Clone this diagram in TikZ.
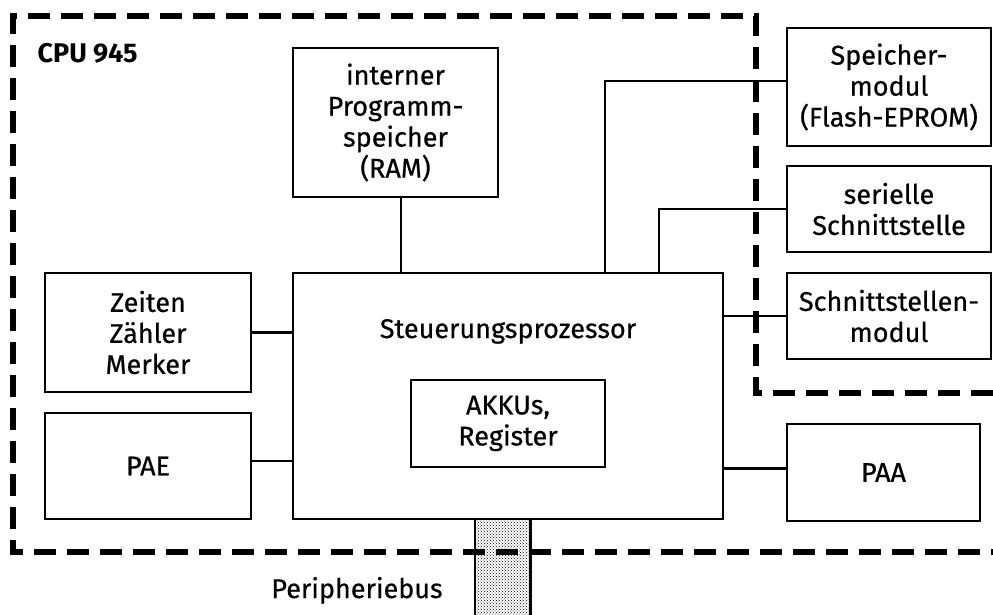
\documentclass[tikz,border=0pt]{standalone}
\usepackage{fontspec}
\setmainfont{Fira Sans}[UprightFeatures={FakeBold=0.6}]
\usetikzlibrary{patterns}
\tikzset{
  schrift/.style = {font=\fontsize{27}{31}\selectfont},
  modul/.style  = {rectangle, draw, line width=2.6pt, align=center, inner sep=0pt, schrift},
  l/.style      = {line width=2.6pt},
  grenze/.style = {line width=6pt, dash pattern=on 22pt off 11pt},
  bus/.style    = {rectangle, pattern=crosshatch dots, inner sep=0pt}
}

\begin{document}
\begin{tikzpicture}[x=1pt, y=-1pt]
  \useasboundingbox (0,0) rectangle (993,614);

  % CPU innen
  \node[modul, minimum width=205, minimum height=149] (ram)  at (395.5,122.5) {interner\\Programm-\\speicher\\(RAM)};
  \node[modul, minimum width=430, minimum height=246] (proz) at (508,396) {};
  \node[schrift, anchor=base] (ptxt) at (508,338) {Steuerungsprozessor};
  \node[modul, minimum width=194, minimum height=87]  (akku) at (508,423.5) {AKKUs,\\Register};
  \node[modul, minimum width=206, minimum height=119] (zzm)  at (148,332.5) {Zeiten\\Z\"ahler\\Merker};
  \node[modul, minimum width=206, minimum height=106] (pae)  at (148,466) {PAE};

  % Module rechts
  \node[modul, minimum width=204, minimum height=118] (spm) at (889,87) {Speicher-\\modul\\(Flash-EPROM)};
  \node[modul, minimum width=204, minimum height=86]  (ser) at (889,209) {serielle\\Schnittstelle};
  \node[modul, minimum width=204, minimum height=86]  (sm)  at (889,316) {Schnittstellen-\\modul};
  \node[modul, minimum width=193, minimum height=97]  (paa) at (883.5,472.5) {PAA};

  % Peripheriebus
  \node[bus, minimum width=55, minimum height=100] (pbus) at (502.5,569) {};
  \draw[l] (pbus.north west) -- (pbus.south west);
  \draw[l] (pbus.north east) -- (pbus.south east);
  \node[schrift, anchor=base] (pbtxt) at (357,598) {Peripheriebus};

  % Verbindungen
  \coordinate (k1) at (605,273);
  \coordinate (k2) at (659,273);
  \draw[l] ([xshift=5.5pt]ram.south) -- ([xshift=5.5pt]ram.south |- proz.north);
  \draw[l] (k1) |- ([yshift=6pt]spm.west);
  \draw[l] (k2) |- (ser.west);
  \draw[l] (proz.east |- sm.west) -- (sm.west);
  \draw[l] (proz.east |- paa.west) ++(0,-4) -- ([yshift=4pt]paa.west);
  \draw[l] (zzm.east) -- (zzm.east -| proz.west);
  \draw[l] ([yshift=5pt]pae.east) -- ([yshift=5pt]pae.east -| proz.west);

  % Grenze CPU 945
  \draw[grenze] (993,393) -- (756,393) -- (756,16) -- (13,16) -- (13,552) -- (993,552);
  \node[anchor=base west, font={\fontsize{27}{31}\selectfont\bfseries}] (cpu) at (34,62) {CPU 945};

\end{tikzpicture}
\end{document}
